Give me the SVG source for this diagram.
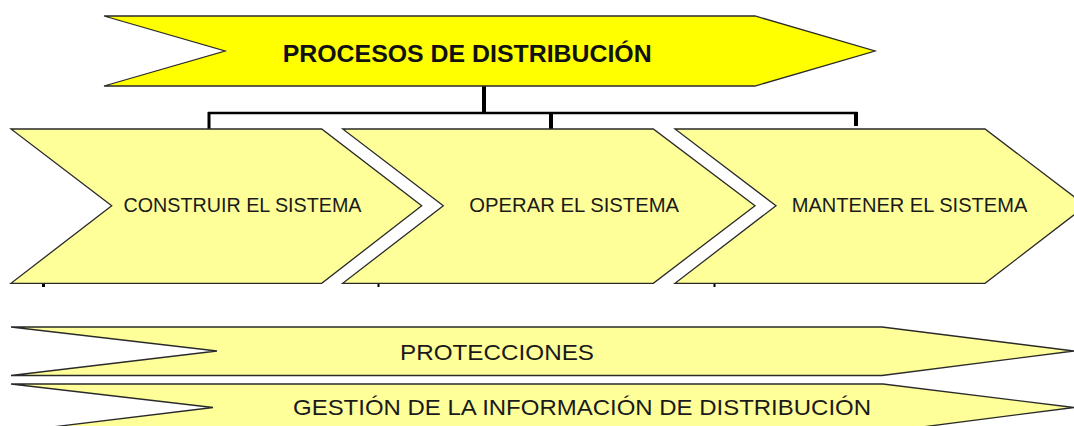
<svg xmlns="http://www.w3.org/2000/svg" width="1074" height="426" viewBox="0 0 1074 426">
  <style>
    .main { fill: #FFFF00; stroke: #2a2a2a; stroke-width: 1.3; stroke-linejoin: miter; }
    .sub { fill: #FFFF99; stroke: #2a2a2a; stroke-width: 1.3; stroke-linejoin: miter; }
    .title { font-family: "Liberation Sans", Arial, sans-serif; font-weight: bold; font-size: 23px; fill: #111; }
    .lbl { font-family: "Liberation Sans", Arial, sans-serif; font-size: 19.5px; fill: #1a1a1a; }
    .big { font-family: "Liberation Sans", Arial, sans-serif; font-size: 22.5px; fill: #1a1a1a; }
    .wire { stroke: #000; fill: none; stroke-linecap: butt; }
  </style>
  <rect width="1074" height="426" fill="#ffffff"/>

  <g id="connectors">
    <line class="wire" x1="484" y1="86" x2="484" y2="113" stroke-width="4"/>
    <line class="wire" x1="208" y1="113" x2="857.5" y2="113" stroke-width="2.4"/>
    <line class="wire" x1="209" y1="112" x2="209" y2="129" stroke-width="3"/>
    <line class="wire" x1="551" y1="112" x2="551" y2="130" stroke-width="4"/>
    <line class="wire" x1="856" y1="112" x2="856" y2="126" stroke-width="4"/>
    <line class="wire" x1="43.5" y1="283" x2="43.5" y2="287" stroke-width="3"/>
    <line class="wire" x1="378.5" y1="283" x2="378.5" y2="287" stroke-width="2"/>
    <line class="wire" x1="714.5" y1="283" x2="714.5" y2="287" stroke-width="2"/>
  </g>

  <g id="procesos">
    <polygon class="main" points="104,16 755,16 875,51 755,86 104,86 225,51"/>
    <text class="title" x="467.2" y="61.7" text-anchor="middle" textLength="369" lengthAdjust="spacingAndGlyphs">PROCESOS DE DISTRIBUCIÓN</text>
  </g>

  <g id="construir">
    <polygon class="sub" points="11,129 321.7,129 421.7,205.7 321.7,283.3 11,283.3 111.7,205.7"/>
    <text class="lbl" x="242.5" y="211.7" text-anchor="middle" textLength="238" lengthAdjust="spacingAndGlyphs">CONSTRUIR EL SISTEMA</text>
  </g>

  <g id="operar">
    <polygon class="sub" points="342.7,129 653.3,129 755,205.7 653.3,283.3 342.7,283.3 443.3,205.7"/>
    <text class="lbl" x="574.2" y="211.7" text-anchor="middle" textLength="209.7" lengthAdjust="spacingAndGlyphs">OPERAR EL SISTEMA</text>
  </g>

  <g id="mantener">
    <polygon class="sub" points="675,129 985,129 1086,205.7 985,283.3 675,283.3 776,205.7"/>
    <text class="lbl" x="909.5" y="211.7" text-anchor="middle" textLength="235.6" lengthAdjust="spacingAndGlyphs">MANTENER EL SISTEMA</text>
  </g>

  <g id="protecciones">
    <polygon class="sub" points="11,327 882,327 1074,351 882,375.5 11,375.5 217,351"/>
    <text class="big" x="497" y="360" text-anchor="middle" textLength="194" lengthAdjust="spacingAndGlyphs">PROTECCIONES</text>
  </g>

  <g id="gestion">
    <polygon class="sub" points="11,384 883,384 1074,407.5 883,432 11,432 213,407.5"/>
    <text class="big" x="582" y="415" text-anchor="middle" textLength="578" lengthAdjust="spacingAndGlyphs">GESTIÓN DE LA INFORMACIÓN DE DISTRIBUCIÓN</text>
  </g>
</svg>
